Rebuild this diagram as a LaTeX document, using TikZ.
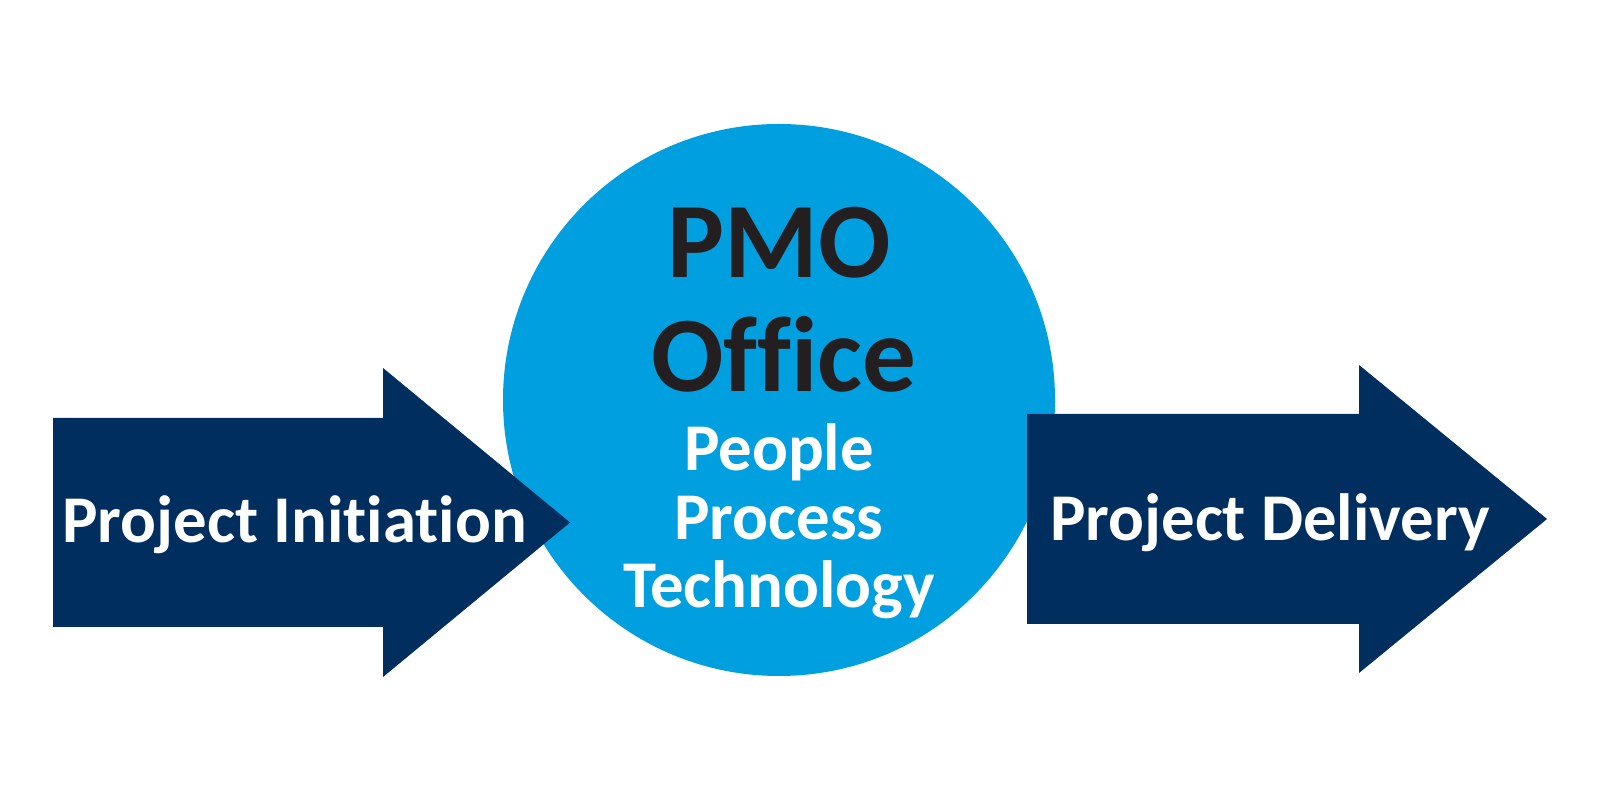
\documentclass[tikz,border=0pt]{standalone}
\usepackage{fontspec}
\setmainfont{Carlito}[Ligatures=NoCommon]
\usepackage{tikz}
\usetikzlibrary{positioning,calc}
\definecolor{pmoblue}{HTML}{009FDF}
\definecolor{pmonavy}{HTML}{002E5E}
\definecolor{pmoink}{HTML}{231F20}
\tikzset{
  arrowlabel/.style={anchor=base,text=white,font=\fontsize{19}{19}\selectfont\bfseries,inner sep=0pt},
  bigtitle/.style={anchor=base,text=pmoink,font=\fontsize{30.5}{30.5}\selectfont\bfseries,inner sep=0pt},
  pillar/.style={anchor=base,text=white,font=\fontsize{19}{19}\selectfont\bfseries,inner sep=0pt}
}

\begin{document}
\begin{tikzpicture}
    \fill[white] (0,0) rectangle (16,8);
    \useasboundingbox (0,0) rectangle (16,8);
    % office circle
    \fill[pmoblue] (7.79,4.00) coordinate (o) circle (2.76cm);
    % arrow into the office
    \fill[pmonavy] (0.53,1.73) -- (0.53,3.82) -- (3.83,3.82) -- (3.83,4.32)
      -- (5.70,2.775) coordinate (tipa) -- (3.83,1.23) -- (3.83,1.73) -- cycle;
    % arrow out of the office
    \fill[pmonavy] (10.27,1.76) -- (10.27,3.86) -- (13.59,3.86) -- (13.59,4.35)
      -- (15.47,2.81) coordinate (tipb) -- (13.59,1.27) -- (13.59,1.76) -- cycle;
    \node [arrowlabel] (init) at (2.945,2.57) {Project Initiation};
    \node [arrowlabel] (deliv) at (12.70,2.59) {Project Delivery};
    \node [bigtitle] (pmo) at ($(o)+(0,1.22)$) {PMO};
    \node [bigtitle] (office) at ($(o)+(0.05,0.08)$) {Office};
    \node [pillar] (people) at ($(o)+(0,-0.71)$) {People};
    \node [pillar] (process) at ($(o)+(0,-1.40)$) {Process};
    \node [pillar] (tech) at ($(o)+(0,-2.08)$) {Technology};
\end{tikzpicture}
\end{document}
